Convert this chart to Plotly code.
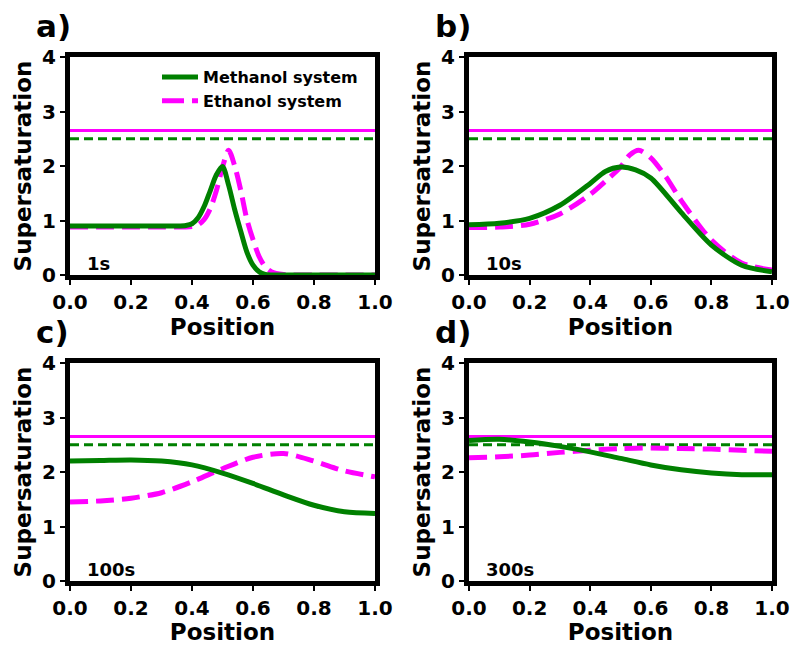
import plotly.graph_objects as go
from plotly.subplots import make_subplots

# ---------------- data ----------------
pos_a_m = [0.0, 0.1, 0.2, 0.3, 0.35, 0.38, 0.40, 0.42, 0.44, 0.46, 0.48, 0.5, 0.52, 0.54, 0.56, 0.58, 0.6, 0.62, 0.64, 0.66, 0.7, 0.8, 0.9, 1.0]
meth_a = [0.9, 0.9, 0.9, 0.9, 0.9, 0.91, 0.94, 1.05, 1.26, 1.55, 1.84, 1.99, 1.65, 1.2, 0.8, 0.42, 0.18, 0.06, 0.01, 0.0, 0.0, 0.0, 0.0, 0.0]
pos_a_e = [0.0, 0.1, 0.2, 0.3, 0.35, 0.38, 0.40, 0.42, 0.44, 0.46, 0.48, 0.5, 0.52, 0.54, 0.56, 0.58, 0.6, 0.62, 0.64, 0.66, 0.7, 0.8, 0.9, 1.0]
eth_a = [0.88, 0.88, 0.88, 0.88, 0.88, 0.88, 0.89, 0.92, 1.02, 1.22, 1.55, 1.98, 2.29, 2.0, 1.55, 1.02, 0.65, 0.34, 0.15, 0.06, 0.01, 0.0, 0.0, 0.0]

pos_b = [0.0, 0.1, 0.2, 0.3, 0.4, 0.45, 0.5, 0.55, 0.6, 0.7, 0.8, 0.9, 1.0]
meth_b = [0.92, 0.95, 1.04, 1.28, 1.68, 1.9, 1.98, 1.93, 1.78, 1.15, 0.55, 0.18, 0.06]
pos_b2 = [0.0, 0.1, 0.2, 0.3, 0.4, 0.45, 0.5, 0.53, 0.56, 0.6, 0.65, 0.7, 0.8, 0.9, 1.0]
eth_b = [0.87, 0.88, 0.93, 1.12, 1.48, 1.72, 1.98, 2.2, 2.29, 2.15, 1.8, 1.37, 0.64, 0.22, 0.09]

pos_c = [0.0, 0.1, 0.2, 0.3, 0.4, 0.5, 0.6, 0.7, 0.8, 0.9, 1.0]
meth_c = [2.2, 2.21, 2.22, 2.2, 2.13, 1.98, 1.79, 1.58, 1.39, 1.27, 1.24]
eth_c = [1.45, 1.47, 1.52, 1.62, 1.82, 2.06, 2.27, 2.34, 2.2, 2.02, 1.91]

pos_d = [0.0, 0.1, 0.2, 0.3, 0.4, 0.5, 0.6, 0.7, 0.8, 0.9, 1.0]
meth_d = [2.58, 2.6, 2.55, 2.47, 2.37, 2.25, 2.13, 2.04, 1.98, 1.95, 1.95]
eth_d = [2.26, 2.28, 2.31, 2.36, 2.4, 2.43, 2.44, 2.43, 2.42, 2.4, 2.38]

meth_threshold = 2.5
eth_threshold = 2.65

panel_labels = ["a)", "b)", "c)", "d)"]
time_labels = ["1s", "10s", "100s", "300s"]
x_ticks = [0.0, 0.2, 0.4, 0.6, 0.8, 1.0]
y_ticks = [0, 1, 2, 3, 4]

GREEN = "#008000"
MAGENTA = "#ff00ff"
FONT = "DejaVu Sans"

panels = [
    (pos_a_m, meth_a, pos_a_e, eth_a),
    (pos_b, meth_b, pos_b2, eth_b),
    (pos_c, meth_c, pos_c, eth_c),
    (pos_d, meth_d, pos_d, eth_d),
]

fig = make_subplots(rows=2, cols=2)

W, H = 791, 645
xdoms = [[70 / W, 375 / W], [469 / W, 772 / W]]
ydoms = [[1 - 275 / H, 1 - 57 / H], [1 - 581 / H, 1 - 363 / H]]

for i, (xm, ym, xe, ye) in enumerate(panels):
    r, c = i // 2 + 1, i % 2 + 1
    fig.add_trace(go.Scatter(x=[0, 1], y=[eth_threshold, eth_threshold], mode="lines",
                             line=dict(color=MAGENTA, width=3), showlegend=False), row=r, col=c)
    fig.add_trace(go.Scatter(x=[0, 1], y=[meth_threshold, meth_threshold], mode="lines",
                             line=dict(color=GREEN, width=3, dash="9px,5px"), showlegend=False), row=r, col=c)
    fig.add_trace(go.Scatter(x=xe, y=ye, mode="lines", name="Ethanol system",
                             line=dict(color=MAGENTA, width=5, dash="18px,8px", shape="spline", smoothing=0.8),
                             showlegend=False), row=r, col=c)
    fig.add_trace(go.Scatter(x=xm, y=ym, mode="lines", name="Methanol system",
                             line=dict(color=GREEN, width=5, shape="spline", smoothing=0.8),
                             showlegend=False), row=r, col=c)

# legend entries (in order Methanol, Ethanol)
fig.add_trace(go.Scatter(x=[None], y=[None], mode="lines", name="Methanol system",
                         line=dict(color=GREEN, width=5)), row=1, col=1)
fig.add_trace(go.Scatter(x=[None], y=[None], mode="lines", name="Ethanol system",
                         line=dict(color=MAGENTA, width=5, dash="22px,8px")), row=1, col=1)

for i in range(4):
    r, c = i // 2, i % 2
    xa = "xaxis" if i == 0 else f"xaxis{i+1}"
    ya = "yaxis" if i == 0 else f"yaxis{i+1}"
    fig.layout[xa].update(
        domain=xdoms[c], range=[0, 1], tickvals=x_ticks, ticktext=[f"{v:.1f}" for v in x_ticks],
        showline=True, linewidth=5, linecolor="black", mirror=True, automargin=False,
        ticks="outside", ticklen=5, tickwidth=2, tickcolor="black",
        showgrid=False, zeroline=False,
        tickfont=dict(family=FONT, size=20, color="black", weight="bold"),
        title=dict(text="Position", font=dict(family=FONT, size=23, color="black", weight="bold"), standoff=4),
    )
    fig.layout[ya].update(
        domain=ydoms[r], range=[0, 4], tickvals=y_ticks,
        showline=True, linewidth=5, linecolor="black", mirror=True, automargin=False,
        ticks="outside", ticklen=5, tickwidth=2, tickcolor="black",
        showgrid=False, zeroline=False,
        tickfont=dict(family=FONT, size=20, color="black", weight="bold"),
        title=dict(text="Supersaturation", font=dict(family=FONT, size=23, color="black", weight="bold"), standoff=6),
    )
    xref = "x" if i == 0 else f"x{i+1}"
    yref = "y" if i == 0 else f"y{i+1}"
    fig.add_annotation(x=0.05, y=0.0, xref=xref, yref=yref, text=time_labels[i], showarrow=False,
                       xanchor="left", yanchor="bottom", yshift=-1,
                       font=dict(family=FONT, size=18, color="black", weight="bold"))
    fig.add_annotation(x=xdoms[c][0] - 36 / W, y=ydoms[r][1] + 31 / H, xref="paper", yref="paper",
                       text=panel_labels[i], showarrow=False, xanchor="left", yanchor="middle",
                       font=dict(family=FONT, size=31, color="black", weight="bold"))

fig.update_layout(
    width=W, height=H,
    margin=dict(l=0, r=0, t=0, b=0),
    paper_bgcolor="white", plot_bgcolor="white",
    showlegend=True,
    legend=dict(x=157 / W, y=1 - 60 / H, xanchor="left", yanchor="top",
                bgcolor="rgba(0,0,0,0)", font=dict(family=FONT, size=16, color="black", weight="bold"),
                tracegroupgap=0, itemwidth=36),
)

fig.write_html("out.html")
